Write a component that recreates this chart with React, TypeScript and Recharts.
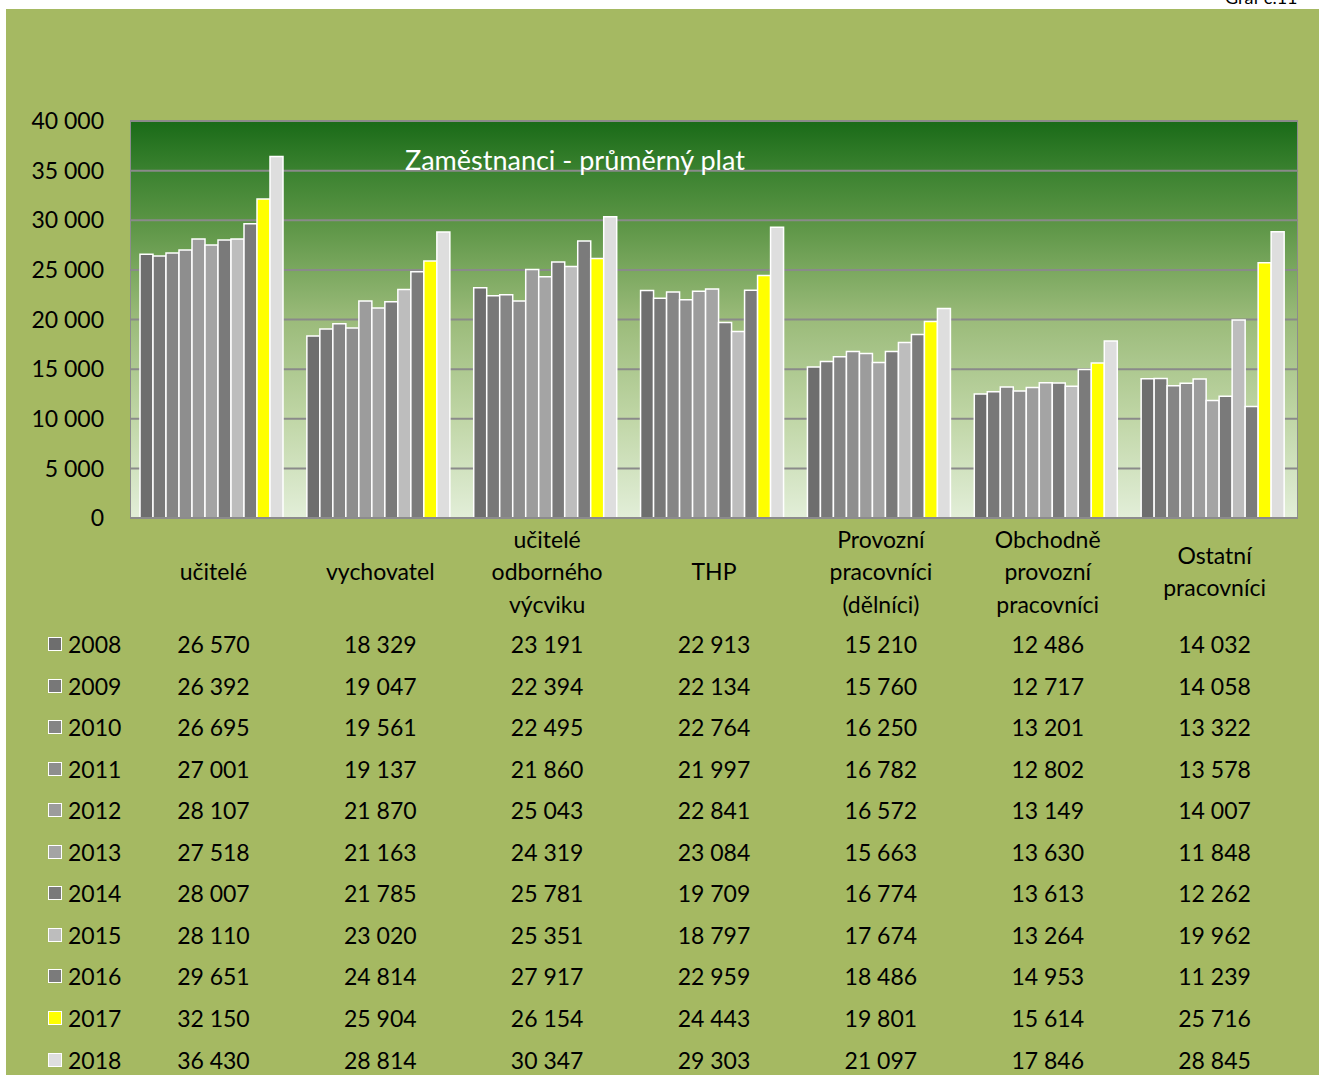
import React from 'react';
import { BarChart, Bar, XAxis, YAxis, CartesianGrid } from 'recharts';

const categories = ['učitelé', 'vychovatel', 'učitelé odborného výcviku', 'THP', 'Provozní pracovníci (dělníci)', 'Obchodně provozní pracovníci', 'Ostatní pracovníci'];
const categoryLines = [
  ['učitelé'],
  ['vychovatel'],
  ['učitelé', 'odborného', 'výcviku'],
  ['THP'],
  ['Provozní', 'pracovníci', '(dělníci)'],
  ['Obchodně', 'provozní', 'pracovníci'],
  ['Ostatní', 'pracovníci'],
];

const years = ['2008', '2009', '2010', '2011', '2012', '2013', '2014', '2015', '2016', '2017', '2018'];

const v2008 = [26570, 18329, 23191, 22913, 15210, 12486, 14032];
const v2009 = [26392, 19047, 22394, 22134, 15760, 12717, 14058];
const v2010 = [26695, 19561, 22495, 22764, 16250, 13201, 13322];
const v2011 = [27001, 19137, 21860, 21997, 16782, 12802, 13578];
const v2012 = [28107, 21870, 25043, 22841, 16572, 13149, 14007];
const v2013 = [27518, 21163, 24319, 23084, 15663, 13630, 11848];
const v2014 = [28007, 21785, 25781, 19709, 16774, 13613, 12262];
const v2015 = [28110, 23020, 25351, 18797, 17674, 13264, 19962];
const v2016 = [29651, 24814, 27917, 22959, 18486, 14953, 11239];
const v2017 = [32150, 25904, 26154, 24443, 19801, 15614, 25716];
const v2018 = [36430, 28814, 30347, 29303, 21097, 17846, 28845];

const series = [v2008, v2009, v2010, v2011, v2012, v2013, v2014, v2015, v2016, v2017, v2018];
const colors = ['#6e6e6e', '#787878', '#858585', '#8e8e8e', '#9c9c9c', '#a4a4a4', '#7a7a7a', '#bdbdbd', '#7b7b7b', '#ffff00', '#dedede'];

const yTicks = [0, 5000, 10000, 15000, 20000, 25000, 30000, 35000, 40000];

const FONT = 'Lato, "Open Sans", sans-serif';

const fmt = (n: number) => String(n).replace(/\B(?=(\d{3})+(?!\d))/g, ' ');

const data = categories.map((name, i) => {
  const row: Record<string, string | number> = { name };
  years.forEach((y, s) => {
    row[y] = series[s][i];
  });
  return row;
});

const ROW_H = 41.55;

// category label + the data table column under it
const CategoryTick = (props: any) => {
  const { x, y, index } = props;
  const lines = categoryLines[index] || [];
  const mid = y + 53;
  return (
    <g fontFamily={FONT} fontSize={23} fill="#000">
      {lines.map((l, i) => (
        <text key={l} x={x} y={mid + (i - (lines.length - 1) / 2) * 32.5} textAnchor="middle" dominantBaseline="central">
          {l}
        </text>
      ))}
      {series.map((s, r) => (
        <text key={years[r]} x={x} y={y + 126 + r * ROW_H} textAnchor="middle" dominantBaseline="central">
          {fmt(s[index])}
        </text>
      ))}
    </g>
  );
};

export default function App() {
  return (
    <div style={{ position: 'absolute', left: 0, top: 0, width: 1319, height: 1075, overflow: 'hidden', background: '#fff', fontFamily: FONT }}>
      <div style={{ position: 'absolute', left: 1225, top: -14, fontSize: 18, color: '#000' }}>Graf č.11</div>
      <div style={{ position: 'absolute', left: 6, top: 9, right: 0, bottom: 0, background: '#a5b962' }} />
      <div
        style={{
          position: 'absolute',
          left: 130,
          top: 121,
          width: 1168,
          height: 397,
          boxSizing: 'border-box',
          border: '1.5px solid #8c8c8c',
          background: 'linear-gradient(to bottom, #1a6b18 0%, #3b8230 12.5%, #5a9444 25%, #9bbb7a 50%, #c0d6a6 75%, #e2eed8 100%)',
        }}
      />
      <div style={{ position: 'absolute', left: 0, top: 0 }}>
        <BarChart width={1319} height={1075} data={data} margin={{ top: 121, right: 21, bottom: 0, left: 0 }} barCategoryGap={10} barGap={0}>
          <CartesianGrid vertical={false} stroke="#8a8a8a" strokeWidth={2} />
          <XAxis dataKey="name" height={557} axisLine={{ stroke: '#8c8c8c', strokeWidth: 2 }} tickLine={false} tickSize={0} tickMargin={0} interval={0} tick={<CategoryTick />} />
          <YAxis
            width={130}
            domain={[0, 40000]}
            ticks={yTicks}
            tickFormatter={fmt}
            axisLine={false}
            tickLine={false}
            tickSize={0}
            tickMargin={26}
            tick={{ fill: '#000', fontSize: 23, fontFamily: FONT }}
          />
          {years.map((y, s) => (
            <Bar key={y} dataKey={y} fill={colors[s]} stroke="#ffffff" strokeWidth={1.5} isAnimationActive={false} />
          ))}
        </BarChart>
      </div>
      <div style={{ position: 'absolute', left: 405, top: 143, fontSize: 27, lineHeight: '34px', color: '#fff', whiteSpace: 'nowrap' }}>Zaměstnanci - průměrný plat</div>
      {years.map((y, r) => (
        <div key={y} style={{ position: 'absolute', left: 48, top: 645 + r * ROW_H - 15, height: 28, display: 'flex', alignItems: 'center', fontSize: 23, color: '#000' }}>
          <span style={{ display: 'inline-block', width: 12, height: 12, background: colors[r], border: '1.5px solid #fff', marginRight: 6 }} />
          {y}
        </div>
      ))}
    </div>
  );
}
